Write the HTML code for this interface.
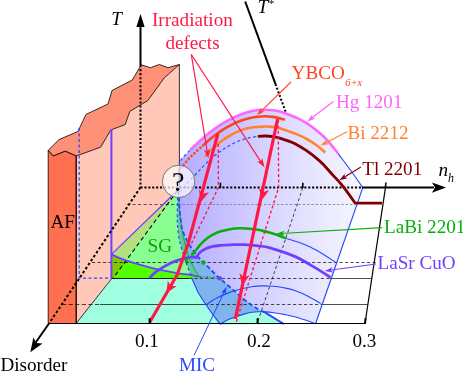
<!DOCTYPE html>
<html><head><meta charset="utf-8"><title>Phase diagram</title>
<style>html,body{margin:0;padding:0;background:#fff;overflow:hidden}body{width:463px;height:373px;font-family:"Liberation Serif",serif}</style>
</head><body>
<svg width="463" height="373" viewBox="0 0 463 373" style="display:block;will-change:transform;font-family:'Liberation Serif',serif">
<defs>
<linearGradient id="dg" gradientUnits="userSpaceOnUse" x1="178" y1="0" x2="365" y2="0"><stop offset="0" stop-color="#b3abff"/><stop offset="0.5" stop-color="#d8d6ff"/><stop offset="1" stop-color="#f8f8ff"/></linearGradient>
</defs>
<rect width="463" height="373" fill="#fff"/>
<path d="M76.1,323.5 L112,278.2 L219.5,278.2 L219.5,278.2 C221.6,280.0 227.6,285.1 231.9,288.8 C236.2,292.5 241.2,297.2 245.6,300.6 C250.0,304.0 255.1,307.5 258.3,309.4 C261.5,311.3 262.0,310.7 264.6,312.1 C267.2,313.5 270.8,316.0 274.0,318.0 C277.2,320.0 282.3,323.0 284.0,324.0 Z" fill="#a0ffe0"/>
<path d="M76.1,156.0 L100.6,147.2 L110.8,130.0 L125.2,124.5 L129.8,111.4 L147.9,100.5 L164.3,77.8 L179.4,64.5 L179.4,190.0 L76.1,323.5 Z" fill="#ffc8b8"/>
<path d="M111.4,254.4 L178,190 L177.8,192.0 C177.7,195.0 177.4,204.5 177.3,210.0 C177.2,215.5 177.2,220.0 177.5,225.0 C177.8,230.0 178.3,234.7 179.4,240.0 C180.5,245.3 182.5,251.9 184.1,256.9 C185.7,261.9 187.6,266.6 188.8,270.0 C190.1,273.4 191.1,276.2 191.6,277.5 L111.4,278.2 Z" fill="#88ff90"/>
<path d="M111.4,254.4 L178,190 L179.4,190 L111.4,277.5 Z" fill="#b4e080"/>
<path d="M177.8,192.0 C177.7,195.0 177.4,204.5 177.3,210.0 C177.2,215.5 177.2,220.0 177.5,225.0 C177.8,230.0 178.3,234.7 179.4,240.0 C180.5,245.3 182.5,251.9 184.1,256.9 C185.7,261.9 187.6,266.6 188.8,270.0 C190.1,273.4 191.1,276.2 191.6,277.5 L200.5,278.2 L200.5,278.2 C200.1,277.6 199.3,276.5 198.1,274.7 C196.9,272.9 195.1,270.2 193.5,267.2 C191.9,264.2 190.2,260.8 188.8,256.9 C187.4,253.0 186.1,248.2 185.0,243.8 C183.9,239.4 183.1,236.2 182.2,230.6 C181.3,225.0 180.1,216.4 179.5,210.0 C178.9,203.6 178.7,195.0 178.5,192.0 Z" fill="#60c8a0"/>
<path d="M111.4,254.4 C113.7,255.4 118.7,258.0 125.2,260.2 C131.7,262.4 142.0,265.6 150.4,267.7 C158.8,269.8 169.2,271.6 175.6,272.8 C182.0,274.0 185.1,274.1 188.8,274.7 C192.6,275.3 196.6,276.3 198.1,276.6 L200.5,278.2 L111.4,278.2 Z" fill="#50ff00"/>
<path d="M111.4,254.4 C116,256.5 120,258 127,260.8 L112.5,278.2 L111.4,278.2 Z" fill="#80c800"/>
<path d="M178.8,188.0 C178.7,186.0 178.3,179.7 178.4,176.0 C178.5,172.3 178.8,168.7 179.2,166.0 C179.6,163.3 180.0,161.7 181.0,159.9 C182.0,158.1 183.5,156.9 185.1,155.2 C186.7,153.5 189.5,150.7 190.4,149.8 L190.4,149.8 C192.0,148.3 196.7,143.7 200.0,140.8 C203.3,137.9 206.7,134.9 210.0,132.3 C213.3,129.7 216.7,127.2 220.0,125.0 C223.3,122.8 226.7,121.0 230.0,119.3 C233.3,117.6 236.7,116.0 240.0,114.7 C243.3,113.4 247.0,112.2 250.0,111.4 C253.0,110.6 255.2,110.4 257.8,110.1 C260.4,109.8 262.9,109.7 265.4,109.7 C267.9,109.7 270.4,109.9 272.9,110.2 C275.4,110.5 277.6,110.9 280.5,111.7 C283.4,112.5 287.1,113.9 290.0,115.0 C292.9,116.1 295.6,117.4 297.8,118.4 C300.0,119.4 301.1,120.0 303.0,121.1 C304.9,122.2 306.7,123.2 309.0,124.8 C311.3,126.4 313.5,128.0 316.6,130.6 C319.7,133.2 323.8,136.5 327.4,140.3 C331.0,144.1 336.4,151.4 338.2,153.6 L338.2,153.6 C340.7,157.0 349.2,168.3 353.3,174.0 C357.4,179.7 361.2,185.4 362.8,187.7 L315.6,323.5 L315.6,323.8 C312.9,322.8 304.4,319.6 299.1,318.0 C293.8,316.4 288.2,315.3 284.0,314.4 C279.8,313.5 277.0,313.2 274.0,312.8 C271.0,312.4 267.3,312.0 266.0,311.9 L264.6,312.1 L264.6,312.1 C263.6,311.7 261.5,311.3 258.3,309.4 C255.1,307.5 250.0,304.0 245.6,300.6 C241.2,297.2 236.4,292.7 231.9,288.8 C227.4,284.9 222.9,281.2 218.8,277.5 C214.7,273.8 210.9,269.7 207.5,266.3 C204.1,262.9 201.2,260.6 198.1,256.9 C195.0,253.1 191.4,248.2 188.8,243.8 C186.2,239.4 183.9,234.2 182.6,230.6 C181.3,227.0 181.5,225.4 181.0,222.0 C180.5,218.6 179.9,214.1 179.6,210.4 C179.3,206.7 179.3,203.4 179.2,200.0 C179.1,196.6 178.9,191.7 178.8,190.0 Z" fill="url(#dg)"/>
<path d="M178.5,192.0 C178.7,195.0 178.9,203.6 179.5,210.0 C180.1,216.4 181.3,225.0 182.2,230.6 C183.1,236.2 183.9,239.4 185.0,243.8 C186.1,248.2 187.4,253.0 188.8,256.9 C190.2,260.8 191.9,264.2 193.5,267.2 C195.1,270.2 196.9,272.9 198.1,274.7 C199.3,276.5 200.1,277.6 200.5,278.2 L191.6,277.5 L191.6,277.5 C192.1,278.8 193.7,282.5 194.8,285.0 C195.9,287.5 196.9,290.1 198.2,292.5 C199.5,294.9 201.2,297.4 202.5,299.5 C203.8,301.6 204.8,303.0 206.1,304.8 C207.3,306.6 208.7,308.6 210.0,310.5 C211.3,312.4 212.4,313.9 214.1,316.2 C215.8,318.5 219.1,322.9 220.1,324.2 L284,324 L284.0,324.0 C282.3,323.0 277.2,320.0 274.0,318.0 C270.8,316.0 266.2,313.1 264.6,312.1 L264.6,312.1 C263.6,311.7 261.5,311.3 258.3,309.4 C255.1,307.5 250.0,304.0 245.6,300.6 C241.2,297.2 236.4,292.7 231.9,288.8 C227.4,284.9 222.9,281.2 218.8,277.5 C214.7,273.8 210.9,269.7 207.5,266.3 C204.1,262.9 201.2,260.6 198.1,256.9 C195.0,253.1 191.4,248.2 188.8,243.8 C186.2,239.4 183.9,234.2 182.6,230.6 C181.3,227.0 181.5,225.4 181.0,222.0 C180.5,218.6 179.9,214.1 179.6,210.4 C179.3,206.7 179.3,203.4 179.2,200.0 C179.1,196.6 178.9,191.7 178.8,190.0 Z" fill="#80b4ec"/>
<path d="M220.1,324.2 L220.1,324.2 C220.9,323.7 223.3,322.2 225.0,321.3 C226.7,320.4 228.0,319.7 230.2,318.8 C232.4,317.9 235.6,316.9 238.2,316.0 C240.8,315.1 243.3,314.2 245.6,313.6 C247.9,313.0 249.9,312.6 252.0,312.3 C254.1,312.0 255.7,311.9 258.0,311.8 C260.3,311.7 264.7,311.9 266.0,311.9 L264.6,312.1 L264.6,312.1 C266.2,313.1 270.8,316.0 274.0,318.0 C277.2,320.0 282.3,323.0 284.0,324.0 Z" fill="#a0ffe0"/>
<path d="M48.2,150.4 L59.0,139.6 L77.9,131.5 L86.0,114.4 L108.0,104.0 L112.0,90.5 L132.3,80.0 L141.3,64.8 L150.4,67.7 L159.3,64.5 L168.0,67.7 L179.4,64.5 L179.4,64.5 L164.3,77.8 L147.9,100.5 L129.8,111.4 L125.2,124.5 L110.8,130.0 L100.6,147.2 L76.1,156.0 L65.3,151.2 L53.2,156.0 L48.2,150.4 Z" fill="#ff9078" stroke="#000" stroke-width="0.8" stroke-linejoin="round"/>
<path d="M48.2,150.4 L53.2,156.0 L65.3,151.2 L76.1,156.0 L76.1,323.5 L48.2,323.5 Z" fill="#ff7050" stroke="#000" stroke-width="0.8" stroke-linejoin="round"/>
<path d="M179.4,64.5 L179.4,190" stroke="#000" stroke-width="0.8"/>
<path d="M76.3,156 L76.3,323.5" stroke="#000" stroke-width="0.9"/>
<path d="M76.1,323.5 L112,278.2" stroke="#000" stroke-width="0.8"/>
<g stroke="#000" stroke-width="0.7" fill="none">
<path d="M127,204.5 L178,204.5" stroke-dasharray="3.2 2.3" stroke="#222"/>
<path d="M178,204.5 L355,204.5" stroke-dasharray="2.4 1.9" stroke="#6a6a6a"/>
<path d="M92,262.5 L376,262.5" stroke-dasharray="3.2 2.3"/>
<path d="M188.8,278.5 L330,278.5" stroke-dasharray="3.2 2.3"/>
<path d="M330,278.5 L372.2,278.5"/>
<path d="M62,304.5 L100,304.5" stroke-dasharray="4.2 2.4"/>
<path d="M100,304.5 L205,304.5"/>
<path d="M205,304.5 L320.7,304.5" stroke-dasharray="3.2 2.3"/>
<path d="M320.7,304.5 L367.7,304.5"/>
<path d="M302.8,187.7 L258,321" stroke-dasharray="3.2 2.3"/>
<path d="M177.5,190.5 L113.2,278.2" stroke-dasharray="4.2 3" stroke-width="1.1"/>
</g>
<path d="M112,278.5 L188.8,278.5" stroke="#000" stroke-width="0.9"/>
<g stroke="#2848ff" stroke-width="0.9" fill="none" stroke-dasharray="3 2.5">
<path d="M79.2,128 L79.2,278.2 L112,278.2" stroke-width="1.25"/>
</g>
<g stroke="#7040ff" fill="none" stroke-linecap="round">
<path d="M111.4,130 L111.4,278.2" stroke-width="2"/>
<path d="M111.4,254.4 L176,192" stroke-width="1.3"/>
<path d="M111.4,254.4 C113.7,255.4 118.7,258.0 125.2,260.2 C131.7,262.4 142.0,265.6 150.4,267.7 C158.8,269.8 169.2,271.6 175.6,272.8 C182.0,274.0 185.1,274.1 188.8,274.7 C192.6,275.3 196.6,276.3 198.1,276.6" stroke-width="1.8"/>
</g>
<g stroke="#2848ff" stroke-width="1.15" fill="none">
<path d="M286.3,238.5 C288.6,239.2 295.9,241.3 300.0,242.8 C304.1,244.3 307.0,245.5 310.7,247.3 C314.4,249.1 317.9,251.1 322.0,253.5 C326.1,255.9 332.9,260.6 335.1,262.0"/>
<path d="M206.1,304.8 C207.9,303.7 212.8,300.2 216.8,298.1 C220.8,296.0 226.4,293.6 230.2,292.1 C234.0,290.6 236.0,290.1 239.6,289.2 C243.2,288.3 247.9,287.4 251.6,286.8 C255.3,286.2 258.4,286.0 262.0,285.9 C265.6,285.8 269.5,285.9 273.2,286.2 C276.9,286.5 280.4,287.1 284.0,287.8 C287.6,288.5 290.8,289.1 294.8,290.5 C298.8,291.9 303.7,294.0 308.0,296.2 C312.3,298.4 318.6,302.3 320.7,303.5"/>
<path d="M220.1,324.2 C220.9,323.7 223.3,322.2 225.0,321.3 C226.7,320.4 228.0,319.7 230.2,318.8 C232.4,317.9 235.6,316.9 238.2,316.0 C240.8,315.1 243.3,314.2 245.6,313.6 C247.9,313.0 249.9,312.6 252.0,312.3 C254.1,312.0 255.7,311.9 258.0,311.8 C260.3,311.7 263.3,311.7 266.0,311.9 C268.7,312.1 271.0,312.4 274.0,312.8 C277.0,313.2 279.8,313.5 284.0,314.4 C288.2,315.3 293.8,316.4 299.1,318.0 C304.4,319.6 312.9,322.8 315.6,323.8"/>
<path d="M338.2,153.6 C340.7,157.0 349.2,168.3 353.3,174.0 C357.4,179.7 361.2,185.4 362.8,187.7 L315.6,323.5"/>
<path d="M191.6,277.5 C192.1,278.8 193.7,282.5 194.8,285.0 C195.9,287.5 196.9,290.1 198.2,292.5 C199.5,294.9 201.2,297.4 202.5,299.5 C203.8,301.6 204.8,303.0 206.1,304.8 C207.3,306.6 208.7,308.6 210.0,310.5 C211.3,312.4 212.4,313.9 214.1,316.2 C215.8,318.5 219.1,322.9 220.1,324.2"/>
<path d="M177.8,192.0 C177.7,195.0 177.4,204.5 177.3,210.0 C177.2,215.5 177.2,220.0 177.5,225.0 C177.8,230.0 178.3,234.7 179.4,240.0 C180.5,245.3 182.5,251.9 184.1,256.9 C185.7,261.9 187.6,266.6 188.8,270.0 C190.1,273.4 191.1,276.2 191.6,277.5" stroke-dasharray="3 2.5"/>
<path d="M178.8,188.0 C178.7,186.0 178.3,179.7 178.4,176.0 C178.5,172.3 178.8,168.7 179.2,166.0 C179.6,163.3 180.0,161.7 181.0,159.9 C182.0,158.1 183.5,156.9 185.1,155.2 C186.7,153.5 189.5,150.7 190.4,149.8" stroke-dasharray="3 2.5"/>
<path d="M180.0,192.0 C181.2,190.6 184.5,186.3 187.0,183.5 C189.5,180.7 192.6,177.6 195.1,175.0 C197.6,172.4 199.6,170.2 201.8,167.9 C204.0,165.6 206.3,163.3 208.5,161.2 C210.7,159.1 213.0,157.0 215.2,155.2 C217.4,153.4 219.8,151.8 221.9,150.3 C224.0,148.8 225.8,147.7 228.0,146.4 C230.2,145.1 232.7,143.7 235.1,142.6 C237.5,141.5 240.2,140.4 242.7,139.6 C245.2,138.8 247.7,138.1 250.2,137.6 C252.7,137.1 256.5,136.5 257.8,136.3" stroke-dasharray="3 2.5"/>
</g>
<path d="M178.5,192.0 C178.7,195.0 178.9,203.6 179.5,210.0 C180.1,216.4 181.3,225.0 182.2,230.6 C183.1,236.2 183.9,239.4 185.0,243.8 C186.1,248.2 187.4,253.0 188.8,256.9 C190.2,260.8 191.9,264.2 193.5,267.2 C195.1,270.2 196.9,272.9 198.1,274.7 C199.3,276.5 200.1,277.6 200.5,278.2" stroke="#08b008" stroke-width="1" fill="none"/>
<path d="M178.8,190.0 C178.9,191.7 179.1,196.6 179.2,200.0 C179.3,203.4 179.3,206.7 179.6,210.4 C179.9,214.1 180.5,218.6 181.0,222.0 C181.5,225.4 181.3,227.0 182.6,230.6 C183.9,234.2 186.2,239.4 188.8,243.8 C191.4,248.2 195.0,253.1 198.1,256.9 C201.2,260.6 204.1,262.9 207.5,266.3 C210.9,269.7 214.7,273.8 218.8,277.5 C222.9,281.2 227.4,284.9 231.9,288.8 C236.4,292.7 241.2,297.2 245.6,300.6 C250.0,304.0 255.1,307.5 258.3,309.4 C261.5,311.3 263.6,311.7 264.6,312.1" stroke="#2848ff" stroke-width="1.8" fill="none" stroke-dasharray="4.5 2.5"/>
<path d="M264.6,312.1 C266.2,313.1 270.8,316.0 274.0,318.0 C277.2,320.0 282.3,323.0 284.0,324.0" stroke="#2848ff" stroke-width="2" fill="none"/>
<g stroke="#000" fill="none">
<path d="M140.5,26 L140.5,65" stroke-width="2"/>
<path d="M140.5,65 L140.5,187" stroke-width="2" stroke-dasharray="2.1 1.95"/>
<path d="M140.5,187.6 L362,187.6" stroke-width="2" stroke-dasharray="2.1 1.8"/>
<path d="M362,187.6 L434,187.6" stroke-width="2"/>
<path d="M140.5,187.3 L49,323.5" stroke-width="2" stroke-dasharray="2.6 2.2"/>
<path d="M49,323.5 L35,343.5" stroke-width="2"/>
<path d="M245.2,1.5 L275.5,84.1" stroke-width="2"/>
<path d="M275.5,84.1 L285.8,112.2" stroke-width="2" stroke-dasharray="2 1.9"/>
<path d="M48.2,323.5 L365,323.5" stroke-width="1.05"/>
<path d="M385.5,187.3 L365,323.5" stroke-width="1.2"/>
<path d="M220.4,182.8 L220.4,188 M302.8,182.8 L302.8,188 M385.9,182.5 L385.4,188" stroke-width="1.6"/>
</g>
<polygon points="140.5,13.8 144.6,27.0 136.4,27.0" fill="#000"/>
<polygon points="446.0,187.6 432.0,192.8 435.0,187.6 432.0,182.4" fill="#000"/>
<polygon points="30.3,352.2 33.4,337.5 36.3,343.0 42.5,343.4" fill="#000"/>
<path d="M190.4,149.8 C192.0,148.3 196.7,143.7 200.0,140.8 C203.3,137.9 206.7,134.9 210.0,132.3 C213.3,129.7 216.7,127.2 220.0,125.0 C223.3,122.8 226.7,121.0 230.0,119.3 C233.3,117.6 236.7,116.0 240.0,114.7 C243.3,113.4 247.0,112.2 250.0,111.4 C253.0,110.6 255.2,110.4 257.8,110.1 C260.4,109.8 262.9,109.7 265.4,109.7 C267.9,109.7 270.4,109.9 272.9,110.2 C275.4,110.5 277.6,110.9 280.5,111.7 C283.4,112.5 287.1,113.9 290.0,115.0 C292.9,116.1 295.6,117.4 297.8,118.4 C300.0,119.4 301.1,120.0 303.0,121.1 C304.9,122.2 306.7,123.2 309.0,124.8 C311.3,126.4 313.5,128.0 316.6,130.6 C319.7,133.2 323.8,136.5 327.4,140.3 C331.0,144.1 336.4,151.4 338.2,153.6" stroke="#ff66ff" stroke-width="2.6" fill="none" stroke-linecap="butt"/>
<path d="M181.0,168.0 C181.6,167.3 183.2,165.4 184.4,163.9 C185.6,162.4 187.1,160.6 188.4,159.2 C189.7,157.8 191.0,156.6 192.4,155.2 C193.8,153.8 195.4,152.2 197.1,150.7 C198.8,149.2 201.4,146.9 202.3,146.1" stroke="#ff4426" stroke-width="2.7" fill="none" stroke-dasharray="0.1 3.9" stroke-linecap="round"/>
<path d="M202.3,146.1 C203.6,145.0 207.1,141.7 210.0,139.3 C212.9,136.9 216.7,133.9 220.0,131.6 C223.3,129.3 226.7,127.4 230.0,125.6 C233.3,123.8 236.7,122.3 240.0,121.0 C243.3,119.7 247.0,118.7 250.0,118.0 C253.0,117.3 255.2,117.0 257.8,116.7 C260.4,116.4 262.9,116.3 265.4,116.3 C267.9,116.3 270.4,116.6 272.9,116.9 C275.4,117.2 278.5,117.9 280.5,118.4 C282.5,118.9 284.2,119.6 285.0,119.8" stroke="#ff4426" stroke-width="2.6" fill="none"/>
<path d="M205.2,156.5 C206.0,155.6 207.5,153.7 210.0,151.3 C212.5,148.9 216.7,144.9 220.0,142.3 C223.3,139.7 226.7,137.4 230.0,135.5 C233.3,133.6 236.7,131.9 240.0,130.6 C243.3,129.3 247.0,128.4 250.0,127.8 C253.0,127.2 255.2,127.1 257.8,126.9 C260.4,126.7 262.9,126.5 265.4,126.5 C267.9,126.5 270.4,126.6 272.9,126.9 C275.4,127.2 277.6,127.6 280.5,128.4 C283.4,129.2 287.6,130.9 290.0,131.8 C292.4,132.7 292.4,132.5 295.0,133.6 C297.6,134.7 302.2,136.6 305.8,138.5 C309.4,140.4 313.4,142.9 316.6,145.2 C319.8,147.5 323.8,151.3 325.2,152.5" stroke="#ff8230" stroke-width="2.6" fill="none"/>
<path d="M257.8,136.3 C259.1,136.2 262.9,135.9 265.4,136.0 C267.9,136.1 270.4,136.3 272.9,136.7 C275.4,137.1 277.6,137.5 280.5,138.3 C283.4,139.1 287.6,140.7 290.0,141.6 C292.4,142.5 292.4,142.4 295.0,143.8 C297.6,145.2 302.2,147.8 305.8,150.2 C309.4,152.6 313.7,156.0 316.6,158.3 C319.5,160.6 320.5,161.5 323.1,164.2 C325.7,166.9 329.0,170.9 332.4,174.6 C335.8,178.3 339.5,181.9 343.2,186.6 C346.9,191.3 352.9,199.9 354.8,202.6 L355.3,203.2 L382.1,203.2" stroke="#800000" stroke-width="2.8" fill="none" stroke-linejoin="miter"/>
<path d="M192.8,254.1 C193.5,253.2 195.5,250.7 196.9,249.0 C198.3,247.3 199.5,245.4 201.0,243.8 C202.5,242.2 204.2,240.6 206.0,239.2 C207.8,237.8 209.7,236.5 212.0,235.2 C214.3,233.9 217.0,232.6 220.0,231.6 C223.0,230.6 226.7,229.8 230.0,229.2 C233.3,228.6 236.7,228.4 240.0,228.3 C243.3,228.2 246.3,228.3 250.0,228.7 C253.7,229.1 258.3,229.8 262.0,230.6 C265.7,231.3 269.0,232.3 272.0,233.2 C275.0,234.1 277.6,235.1 280.0,236.0 C282.4,236.9 285.2,238.1 286.3,238.5" stroke="#08b008" stroke-width="2.6" fill="none"/>
<path d="M149.5,278.0 C150.7,276.9 153.2,273.7 156.9,271.2 C160.6,268.7 166.6,265.0 171.4,262.8 C176.2,260.6 182.4,259.2 185.8,258.2 C189.2,257.2 190.3,257.1 192.0,257.0 C193.7,256.9 195.5,257.5 196.2,257.6 L196.2,257.6 C196.8,256.7 198.3,253.8 200.1,252.2 C201.9,250.6 204.7,249.2 206.8,248.2 C209.0,247.2 210.8,246.9 213.0,246.4 C215.2,245.9 217.4,245.7 220.2,245.4 C223.0,245.1 225.9,244.9 230.0,244.8 C234.1,244.7 240.3,244.4 245.0,244.6 C249.7,244.8 254.1,245.3 258.3,245.8 C262.5,246.3 263.9,246.0 270.0,247.8 C276.1,249.6 287.6,253.3 295.2,256.6 C302.8,260.0 309.5,264.4 315.4,267.9 C321.3,271.4 328.0,275.8 330.5,277.4" stroke="#7040ff" stroke-width="2.8" fill="none" stroke-linejoin="round"/>
<path d="M192.5,254.1 L186,260.7" stroke="#08b008" stroke-width="1.6" stroke-dasharray="1.6 1.8"/>
<circle cx="192.5" cy="254.1" r="1.6" fill="#08b008"/><circle cx="186.2" cy="260.8" r="1.6" fill="#08b008"/><circle cx="203.4" cy="262.5" r="2.2" fill="#08b008"/>
<path d="M199.5,276.9 L219.7,278.3" stroke="#7040ff" stroke-width="1.9" stroke-dasharray="2.2 4.2"/>
<path d="M202.7,277.1 L217,278.1" stroke="#30d000" stroke-width="1.9" stroke-dasharray="2.2 4.2"/>
<circle cx="219.7" cy="278.3" r="2.3" fill="#7040ff"/>
<g stroke="#ff1846" fill="none">
<path d="M218.2,144 L218.4,187.5 L190.3,246" stroke-width="1.35" stroke-dasharray="3 2.4"/>
<path d="M278.2,120 L278.7,187.3 L236.3,322" stroke-width="1.35" stroke-dasharray="3 2.4"/>
<path d="M217.9,133.7 L188.5,242.5 L177.3,274.5 L149.7,322.3" stroke-width="3.2" stroke-linejoin="round"/>
<path d="M277.6,119 L235.3,318.8" stroke-width="3.2"/>
<path d="M191.3,54.5 L207.5,153" stroke-width="1.2"/>
<path d="M191.3,54.5 L261.9,163.3" stroke-width="1.2"/>
</g>
<polygon points="200.9,202.0 198.9,189.5 203.1,193.8 208.9,192.3" fill="#ff1846"/>
<polygon points="261.7,200.2 259.0,187.9 263.5,191.9 269.2,190.0" fill="#ff1846"/>
<polygon points="166.3,293.2 167.8,280.7 170.7,285.9 176.7,286.0" fill="#ff1846"/>
<polygon points="242.2,285.5 239.5,273.2 244.0,277.2 249.7,275.3" fill="#ff1846"/>
<polygon points="208.3,158.2 203.9,149.8 207.2,151.3 209.8,148.8" fill="#ff1846"/>
<polygon points="264.6,167.5 257.2,161.6 260.8,161.6 262.2,158.3" fill="#ff1846"/>
<path d="M149.7,318.2 L149.7,324 M257.6,318.2 L257.6,324 M365.6,318.2 L365,324" stroke="#000" stroke-width="2" fill="none"/>
<path d="M291.0,82.0 L260.4,111.9" stroke="#ff4426" stroke-width="1.1" fill="none"/>
<polygon points="257.0,115.3 260.9,107.8 261.3,111.1 264.5,111.6" fill="#ff4426"/>
<path d="M333.3,101.5 L311.1,118.6" stroke="#ff66ff" stroke-width="1.3" fill="none"/>
<polygon points="307.3,121.5 312.1,114.6 312.1,117.8 315.2,118.7" fill="#ff66ff"/>
<path d="M347.0,131.7 L324.8,143.4" stroke="#ff8230" stroke-width="1.1" fill="none"/>
<polygon points="320.5,145.6 326.4,139.6 325.8,142.8 328.8,144.2" fill="#ff8230"/>
<path d="M360.9,167.0 L343.4,177.7" stroke="#800000" stroke-width="1.1" fill="none"/>
<polygon points="339.3,180.2 344.8,173.8 344.4,177.1 347.5,178.2" fill="#800000"/>
<path d="M382.2,227.6 L281.3,233.5" stroke="#08b008" stroke-width="1.1" fill="none"/>
<polygon points="276.5,233.8 284.3,230.7 282.5,233.4 284.6,235.9" fill="#08b008"/>
<path d="M376.0,264.0 L329.6,270.3" stroke="#7040ff" stroke-width="1.1" fill="none"/>
<polygon points="324.8,271.0 332.4,267.3 330.7,270.2 333.1,272.5" fill="#7040ff"/>
<path d="M194.1,355.3 L224.6,291.0" stroke="#2848ff" stroke-width="1" fill="none"/>
<polygon points="226.7,286.7 225.6,295.0 224.1,292.1 220.9,292.8" fill="#2848ff"/>
<circle cx="178.6" cy="181.4" r="16.2" fill="#fff" fill-opacity="0.7" stroke="#777" stroke-width="1"/>
<text x="178.3" y="190.8" font-size="28" text-anchor="middle" fill="#000">?</text>
<text x="111.3" y="24.8" font-size="19.15" fill="#000" text-anchor="start" font-style="italic">T</text>
<text x="257.5" y="12.5" font-size="19.15" fill="#000" text-anchor="start" font-style="italic">T<tspan font-size="11" dy="-6">*</tspan></text>
<text x="192.4" y="25.9" font-size="19.15" fill="#ff1846" text-anchor="middle" >Irradiation</text>
<text x="192.5" y="48.6" font-size="19.15" fill="#ff1846" text-anchor="middle" >defects</text>
<text x="291.6" y="78.8" font-size="19.15" fill="#ff4426" text-anchor="start" >YBCO<tspan font-size="10.5" dx="0.5" dy="7.2" font-style="italic">6+x</tspan></text>
<text x="336.0" y="108.2" font-size="19.15" fill="#ff66ff" text-anchor="start" >Hg 1201</text>
<text x="347.4" y="138.8" font-size="19.15" fill="#ff8230" text-anchor="start" >Bi 2212</text>
<text x="362.2" y="174.6" font-size="19.15" fill="#800000" text-anchor="start" >Tl 2201</text>
<text x="384.0" y="232.5" font-size="19.15" fill="#08b008" text-anchor="start" >LaBi 2201</text>
<text x="377.5" y="269" font-size="19.15" fill="#7040ff" text-anchor="start" >LaSr CuO</text>
<text x="50.5" y="227.8" font-size="19.15" fill="#000" text-anchor="start" >AF</text>
<text x="147.6" y="251.8" font-size="19.15" fill="#08a408" text-anchor="start" >SG</text>
<text x="0.4" y="370.8" font-size="19.15" fill="#000" text-anchor="start" >Disorder</text>
<text x="178.9" y="371.4" font-size="19.15" fill="#2848ff" text-anchor="start" >MIC</text>
<text x="135" y="346.8" font-size="19.15" fill="#000" text-anchor="start" >0.1</text>
<text x="247" y="346.8" font-size="19.15" fill="#000" text-anchor="start" >0.2</text>
<text x="352.5" y="346.8" font-size="19.15" fill="#000" text-anchor="start" >0.3</text>
<text x="438.5" y="175.8" font-size="19.15" fill="#000" text-anchor="start" font-style="italic">n<tspan font-size="12" dy="6.2">h</tspan></text>
</svg>
</body></html>
